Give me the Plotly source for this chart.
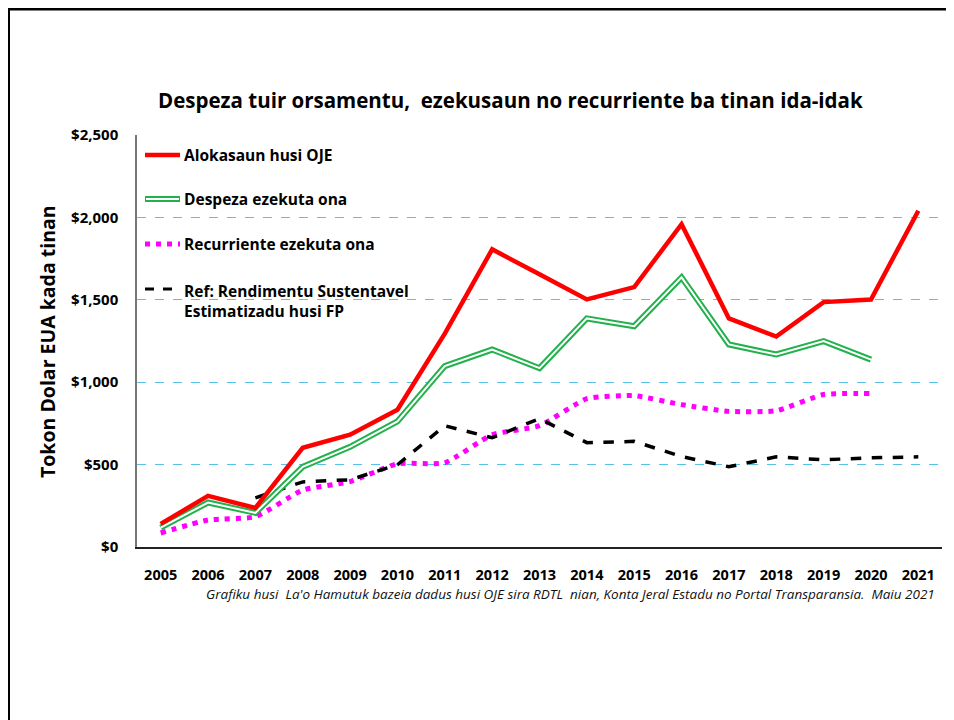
import plotly.graph_objects as go

years = ["2005", "2006", "2007", "2008", "2009", "2010", "2011", "2012", "2013",
         "2014", "2015", "2016", "2017", "2018", "2019", "2020", "2021"]
alokasaun = [140, 310, 237, 602, 681, 833, 1295, 1806, 1655, 1502, 1577, 1959, 1387, 1277, 1486, 1502, 2040]
despeza = [117, 270, 207, 487, 608, 762, 1098, 1198, 1085, 1387, 1340, 1636, 1229, 1168, 1249, 1137, None]
recurriente = [85, 164, 184, 345, 397, 505, 511, 681, 736, 900, 918, 864, 823, 827, 925, 931, None]
ref_fp = [None, None, 298, 395, 408, 499, 736, 663, 779, 633, 641, 549, 487, 547, 529, 541, 547]

names = ["Alokasaun husi OJE", "Despeza ezekuta ona", "Recurriente ezekuta ona",
         "Ref: Rendimentu Sustentavel<br>Estimatizadu husi FP"]
y_ticks = [0, 500, 1000, 1500, 2000, 2500]
y_tick_text = ["$0", "$500", "$1,000", "$1,500", "$2,000", "$2,500"]

# page body has an 8px margin, so the figure is drawn 8px smaller and offset
OFF = 8
W, H = 954 - OFF, 720 - OFF
L, R, T, B = 137, 942, 135, 547  # plot area in screen pixels
FONT = "Open Sans"


def px2x(px):
    return (px - L) / (R - L)


def py2y(py):
    return (B - py) / (B - T)


RED = "#FF0000"
GREEN = "#22B14C"
MAG = "#FF00FF"
BLK = "#000000"
DOT = "5px,6px"

fig = go.Figure()
fig.add_trace(go.Scatter(x=years, y=recurriente, mode="lines", name=names[2],
                         line=dict(color=MAG, width=5, dash=DOT, shape="spline", smoothing=0.5)))
fig.add_trace(go.Scatter(x=years, y=ref_fp, mode="lines", name=names[3],
                         line=dict(color=BLK, width=3.5, dash="dash")))
fig.add_trace(go.Scatter(x=years, y=despeza, mode="lines", name=names[1],
                         line=dict(color=GREEN, width=6)))
fig.add_trace(go.Scatter(x=years, y=despeza, mode="lines", name=names[1],
                         line=dict(color="white", width=2), hoverinfo="skip"))
fig.add_trace(go.Scatter(x=years, y=alokasaun, mode="lines", name=names[0],
                         line=dict(color=RED, width=4.5)))

shapes = []
annotations = []

# frame border (top and left)
shapes.append(dict(type="line", xref="paper", yref="paper", x0=px2x(7), x1=px2x(980),
                   y0=py2y(9), y1=py2y(9), line=dict(color="black", width=3)))
shapes.append(dict(type="line", xref="paper", yref="paper", x0=px2x(8.5), x1=px2x(8.5),
                   y0=py2y(8), y1=py2y(760), line=dict(color="black", width=3)))

# manual legend
leg = [
    (155, dict(color=RED, width=4.5), names[0]),
    (199, dict(color=GREEN, width=6), names[1]),
    (244, dict(color=MAG, width=5, dash=DOT), names[2]),
    (289, dict(color=BLK, width=3, dash="dash"), names[3]),
]
for py, ln, txt in leg:
    shapes.append(dict(type="line", xref="paper", yref="paper", x0=px2x(145), x1=px2x(180),
                       y0=py2y(py), y1=py2y(py), line=ln))
    if ln["color"] == GREEN:
        shapes.append(dict(type="line", xref="paper", yref="paper", x0=px2x(146), x1=px2x(179),
                           y0=py2y(py), y1=py2y(py), line=dict(color="white", width=2)))
    two = "<br>" in txt
    annotations.append(dict(xref="paper", yref="paper", x=px2x(182), y=py2y(py),
                            xanchor="left", yanchor="top" if two else "middle",
                            yshift=11 if two else 0,
                            text=txt, showarrow=False, align="left",
                            font=dict(family=FONT, size=15.5, color="black", weight="bold")))

# title
annotations.append(dict(xref="paper", yref="paper", x=px2x(510), y=py2y(100),
                        xanchor="center", yanchor="middle", showarrow=False,
                        text="Despeza tuir orsamentu,  ezekusaun no recurriente ba tinan ida-idak",
                        font=dict(family=FONT, size=20.5, color="black", weight="bold")))
# y-axis title
annotations.append(dict(xref="paper", yref="paper", x=px2x(47), y=py2y(342),
                        xanchor="center", yanchor="middle", showarrow=False, textangle=-90,
                        text="Tokon Dolar EUA kada tinan",
                        font=dict(family=FONT, size=19.5, color="black", weight="bold")))
# footnote
annotations.append(dict(xref="paper", yref="paper", x=px2x(937), y=py2y(594),
                        xanchor="right", yanchor="middle", showarrow=False,
                        text="Grafiku husi  La'o Hamutuk bazeia dadus husi OJE sira RDTL  nian, Konta Jeral Estadu no Portal Transparansia.  Maiu 2021",
                        font=dict(family=FONT, size=13.5, color="#111111", style="italic")))
# Retifikadu
annotations.append(dict(x=years[-1], y=alokasaun[-1], xref="x", yref="y",
                        xanchor="center", yanchor="bottom", yshift=6, xshift=-8,
                        showarrow=False, text="Retifikadu",
                        font=dict(family=FONT, size=11.5, color=RED, weight="bold")))

fig.update_layout(
    width=W, height=H,
    margin=dict(l=L - OFF, r=954 - R, t=T - OFF, b=720 - B),
    paper_bgcolor="white", plot_bgcolor="white",
    shapes=shapes, annotations=annotations,
    showlegend=False,
    xaxis=dict(type="category", categoryorder="array", categoryarray=years,
               range=[-0.5, len(years) - 0.5],
               showgrid=False, showline=True, linecolor="#222222", linewidth=1.5,
               ticks="", ticklabelstandoff=14,
               tickfont=dict(family=FONT, size=14.5, color="black", weight="bold"),
               fixedrange=True),
    yaxis=dict(range=[0, 2500], tickvals=y_ticks, ticktext=y_tick_text,
               showgrid=True, gridcolor="#55C2EE", griddash="dash", gridwidth=1,
               showline=True, linecolor="#777777", linewidth=1.5, zeroline=False,
               ticks="", ticklabelstandoff=14,
               tickfont=dict(family=FONT, size=15, color="black", weight="bold"),
               fixedrange=True),
)

fig.write_html("out.html")
